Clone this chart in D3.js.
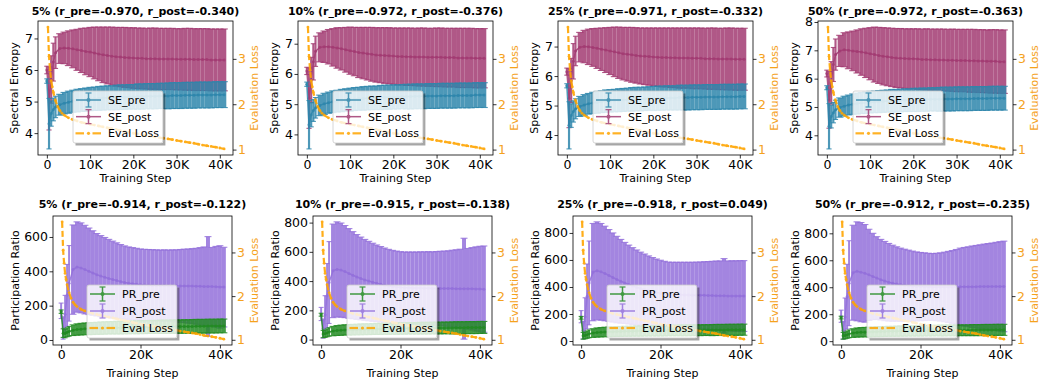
<!DOCTYPE html>
<html>
<head>
<meta charset="utf-8">
<script src="https://cdn.jsdelivr.net/npm/d3@7"></script>
<style>
  body { margin: 0; background: #fff; }
  svg { display: block; }
  text { font-family: "DejaVu Sans", sans-serif; }
</style>
</head>
<body>
<svg id="fig" width="1040" height="383"></svg>
<script>
// ---------------------------------------------------------------
// Training steps at which the spectral metrics were measured
// ---------------------------------------------------------------
const steps = [0, 500, 1000, 1500, 2000, 3000, 4000, 5000, 6000, 7000,
  8000, 9000, 10000, 11000, 12000, 13000, 14000, 15000, 16000, 17000,
  18000, 19000, 20000, 21000, 22000, 23000, 24000, 25000, 26000, 27000,
  28000, 29000, 30000, 31000, 32000, 33000, 34000, 35000, 36000, 37000,
  38000, 39000, 40000, 41000];

// Evaluation loss (right axis), shared by every panel
const lossSteps = [250, 500, 750, 1000, 1250, 1500, 2000, 2500, 3000, 3500, 4000,
  5000, 6000, 7000, 8000, 9000, 10000, 11000, 12000, 13000, 14000,
  15000, 16000, 17000, 18000, 19000, 20000, 21000, 22000, 23000, 24000,
  25000, 26000, 27000, 28000, 29000, 30000, 31000, 32000, 33000, 34000,
  35000, 36000, 37000, 38000, 39000, 40000, 41000];
const lossValues = [3.70, 3.05, 2.75, 2.52, 2.38, 2.26, 2.08, 1.95, 1.86, 1.80, 1.76,
  1.70, 1.66, 1.63, 1.60, 1.58, 1.56, 1.54, 1.52, 1.50, 1.48,
  1.46, 1.44, 1.42, 1.40, 1.38, 1.36, 1.345, 1.33, 1.31, 1.30,
  1.28, 1.265, 1.25, 1.235, 1.22, 1.20, 1.185, 1.17, 1.155, 1.14,
  1.12, 1.10, 1.085, 1.07, 1.055, 1.035, 1.015];

// Tick labels of the step axis
const seXTicks = [0, 10000, 20000, 30000, 40000];
const prXTicks = [0, 20000, 40000];

// Panel titles
const seTitles = ["5% (r_pre=-0.970, r_post=-0.340)", "10% (r_pre=-0.972, r_post=-0.376)",
  "25% (r_pre=-0.971, r_post=-0.332)", "50% (r_pre=-0.972, r_post=-0.363)"];
const prTitles = ["5% (r_pre=-0.914, r_post=-0.122)", "10% (r_pre=-0.915, r_post=-0.138)",
  "25% (r_pre=-0.918, r_post=0.049)", "50% (r_pre=-0.912, r_post=-0.235)"];

// ---------------- Spectral entropy (mean, std) ----------------
const se5PreMean = [5.65,4.30,4.62,4.75,4.83,4.90,4.95,4.98,5.01,5.03, 5.05,5.06,5.08,5.09,5.10,5.11,5.12,5.12,5.13,5.14, 5.14,5.15,5.15,5.16,5.16,5.17,5.17,5.17,5.18,5.18, 5.18,5.19,5.19,5.19,5.20,5.20,5.20,5.21,5.21,5.21, 5.21,5.22,5.22,5.22];
const se5PreStd = [0.07,0.80,0.40,0.36,0.34,0.33,0.34,0.35,0.35,0.36, 0.36,0.37,0.37,0.37,0.38,0.38,0.38,0.38,0.39,0.39, 0.39,0.39,0.39,0.40,0.40,0.40,0.40,0.40,0.40,0.40, 0.41,0.41,0.41,0.41,0.41,0.41,0.41,0.41,0.41,0.41, 0.41,0.41,0.41,0.41];
const se5PostMean = [6.00,5.10,5.70,6.25,6.55,6.68,6.70,6.69,6.67,6.64, 6.62,6.59,6.57,6.54,6.51,6.48,6.46,6.44,6.42,6.41, 6.40,6.39,6.38,6.37,6.37,6.36,6.36,6.36,6.35,6.35, 6.35,6.35,6.34,6.34,6.34,6.34,6.33,6.33,6.33,6.33, 6.32,6.32,6.32,6.32];
const se5PostStd = [0.12,1.00,0.75,0.60,0.50,0.47,0.50,0.55,0.60,0.65, 0.70,0.74,0.78,0.82,0.85,0.88,0.90,0.92,0.93,0.94, 0.95,0.95,0.96,0.96,0.96,0.96,0.97,0.97,0.97,0.97, 0.97,0.97,0.97,0.97,0.98,0.98,0.98,0.98,0.98,0.98, 0.98,0.98,0.98,0.98];

const se10PreMean = [5.66,4.32,4.65,4.79,4.88,4.96,5.01,5.05,5.08,5.10, 5.12,5.14,5.15,5.17,5.18,5.19,5.20,5.21,5.21,5.22, 5.23,5.23,5.24,5.24,5.25,5.25,5.25,5.26,5.26,5.26, 5.27,5.27,5.27,5.28,5.28,5.28,5.28,5.29,5.29,5.29, 5.29,5.30,5.30,5.30];
const se10PreStd = [0.07,0.80,0.40,0.36,0.34,0.34,0.35,0.35,0.36,0.36, 0.37,0.37,0.38,0.38,0.38,0.39,0.39,0.39,0.39,0.40, 0.40,0.40,0.40,0.40,0.40,0.41,0.41,0.41,0.41,0.41, 0.41,0.41,0.41,0.41,0.41,0.41,0.41,0.41,0.41,0.41, 0.41,0.41,0.41,0.41];
const se10PostMean = [6.10,5.20,5.80,6.40,6.75,6.88,6.90,6.90,6.88,6.86, 6.83,6.80,6.77,6.74,6.71,6.69,6.67,6.65,6.63,6.62, 6.61,6.60,6.59,6.58,6.58,6.57,6.57,6.56,6.56,6.56, 6.55,6.55,6.55,6.55,6.54,6.54,6.54,6.53,6.53,6.53, 6.53,6.52,6.52,6.52];
const se10PostStd = [0.12,1.00,0.75,0.60,0.50,0.48,0.52,0.57,0.62,0.67, 0.70,0.74,0.78,0.80,0.83,0.85,0.87,0.89,0.90,0.91, 0.92,0.93,0.93,0.94,0.94,0.95,0.95,0.95,0.96,0.96, 0.96,0.96,0.97,0.97,0.97,0.97,0.97,0.98,0.98,0.98, 0.98,0.98,0.98,0.98];

const se25PreMean = [5.67,4.33,4.66,4.80,4.89,4.97,5.02,5.06,5.09,5.11, 5.13,5.15,5.16,5.17,5.18,5.19,5.20,5.21,5.22,5.22, 5.23,5.24,5.24,5.25,5.25,5.26,5.26,5.26,5.27,5.27, 5.27,5.28,5.28,5.28,5.29,5.29,5.29,5.29,5.30,5.30, 5.30,5.30,5.31,5.31];
const se25PreStd = [0.07,0.80,0.40,0.36,0.34,0.34,0.35,0.35,0.36,0.37, 0.37,0.38,0.38,0.38,0.39,0.39,0.39,0.40,0.40,0.40, 0.40,0.40,0.41,0.41,0.41,0.41,0.41,0.41,0.42,0.42, 0.42,0.42,0.42,0.42,0.42,0.42,0.42,0.42,0.42,0.42, 0.42,0.42,0.42,0.42];
const se25PostMean = [6.15,5.25,5.85,6.50,6.85,6.98,7.00,6.99,6.97,6.94, 6.91,6.88,6.85,6.82,6.79,6.76,6.74,6.72,6.70,6.68, 6.67,6.66,6.65,6.64,6.63,6.63,6.62,6.62,6.61,6.61, 6.61,6.60,6.60,6.60,6.59,6.59,6.59,6.58,6.58,6.58, 6.58,6.57,6.57,6.57];
const se25PostStd = [0.12,1.00,0.75,0.60,0.50,0.50,0.55,0.60,0.64,0.68, 0.72,0.76,0.80,0.84,0.87,0.89,0.91,0.93,0.94,0.95, 0.96,0.97,0.98,0.99,1.00,1.00,1.01,1.01,1.02,1.02, 1.02,1.03,1.03,1.03,1.03,1.04,1.04,1.04,1.04,1.05, 1.05,1.05,1.05,1.05];

const se50PreMean = [5.68,4.32,4.66,4.80,4.90,4.98,5.03,5.07,5.10,5.12, 5.14,5.15,5.17,5.18,5.19,5.20,5.21,5.22,5.22,5.23, 5.24,5.24,5.25,5.25,5.26,5.26,5.27,5.27,5.27,5.28, 5.28,5.28,5.29,5.29,5.29,5.29,5.30,5.30,5.30,5.30, 5.31,5.31,5.31,5.31];
const se50PreStd = [0.07,0.80,0.40,0.36,0.34,0.34,0.35,0.35,0.36,0.37, 0.37,0.38,0.38,0.38,0.39,0.39,0.39,0.40,0.40,0.40, 0.40,0.40,0.41,0.41,0.41,0.41,0.41,0.41,0.42,0.42, 0.42,0.42,0.42,0.42,0.42,0.42,0.42,0.42,0.42,0.42, 0.42,0.42,0.42,0.42];
const se50PostMean = [6.18,5.25,5.85,6.50,6.85,6.98,7.02,7.00,6.98,6.96, 6.94,6.91,6.88,6.85,6.82,6.79,6.77,6.75,6.73,6.72, 6.71,6.70,6.70,6.69,6.68,6.68,6.67,6.67,6.66,6.66, 6.65,6.65,6.64,6.64,6.64,6.63,6.63,6.62,6.62,6.61, 6.61,6.61,6.60,6.60];
const se50PostStd = [0.12,1.00,0.75,0.60,0.55,0.55,0.60,0.65,0.70,0.76, 0.82,0.87,0.92,0.97,0.99,1.01,1.02,1.03,1.04,1.05, 1.05,1.06,1.06,1.07,1.07,1.08,1.08,1.08,1.09,1.09, 1.09,1.10,1.10,1.10,1.10,1.11,1.11,1.11,1.11,1.11, 1.12,1.12,1.12,1.12];

// ---------------- Participation ratio (mean, std) ----------------
const pr5PreMean = [165,40,38,45,50,57,61,63,65,66, 67,68,69,70,71,71,72,72,73,73, 74,74,75,75,76,76,76,77,77,77, 78,78,78,79,79,79,80,80,80,81, 81,81,82,82];
const pr5PreStd = [10,25,25,26,28,31,33,34,34,35, 35,35,36,36,36,36,37,37,37,37, 37,38,38,38,38,38,38,39,39,39, 39,39,39,39,39,40,40,40,40,40, 40,40,40,40];
const pr5PostMean = [170,70,150,260,330,410,425,420,410,400, 390,380,372,365,358,352,346,340,335,331, 328,325,322,320,319,318,318,317,317,316, 316,315,315,315,314,314,313,313,312,312, 311,310,309,308];
const pr5PostStd = [45,65,110,180,220,260,263,262,258,252, 246,240,236,232,228,224,220,216,213,211, 210,209,208,208,208,208,207,207,208,208, 209,210,212,214,216,218,221,225,230,290, 228,235,240,232];

const pr10PreMean = [170,38,40,46,52,58,62,64,66,67, 68,69,70,71,71,72,73,73,74,74, 75,75,76,76,77,77,77,78,78,78, 79,79,79,80,80,80,81,81,81,82, 82,82,83,83];
const pr10PreStd = [10,25,25,27,29,32,34,35,35,36, 36,36,37,37,37,37,38,38,38,38, 38,39,39,39,39,39,39,40,40,40, 40,40,40,40,40,41,41,41,41,41, 41,41,41,41];
const pr10PostMean = [175,75,170,300,390,470,480,475,465,452, 440,428,418,408,400,392,385,378,372,367, 363,360,357,355,354,353,352,352,351,351, 350,350,350,349,349,349,348,348,348,347, 347,346,346,345];
const pr10PostStd = [45,65,130,220,280,320,325,322,315,307, 298,290,283,277,272,267,262,258,254,250, 247,245,244,244,245,246,247,248,249,250, 250,252,254,256,258,262,266,270,345,276, 282,288,292,295];

const pr25PreMean = [172,39,41,47,53,59,63,65,67,68, 69,70,71,72,72,73,74,74,75,75, 76,76,77,77,78,78,78,79,79,79, 80,80,80,81,81,81,82,82,82,83, 83,83,84,84];
const pr25PreStd = [10,25,25,27,29,32,34,35,35,36, 36,36,37,37,37,37,38,38,38,38, 38,39,39,39,39,39,39,40,40,40, 40,40,40,40,40,41,41,41,41,41, 41,41,41,41];
const pr25PostMean = [180,80,180,330,430,510,520,512,500,485, 470,455,442,430,418,407,397,388,380,372, 365,359,354,350,346,344,343,342,341,340, 339,339,338,338,337,337,336,335,335,334, 334,333,333,333];
const pr25PostStd = [45,65,140,240,310,360,362,358,350,340, 330,320,310,300,292,284,277,270,264,258, 253,248,244,240,238,239,240,241,242,243, 244,245,247,249,251,253,256,258,275,259, 260,261,262,262];

const pr50PreMean = [175,40,42,48,54,60,64,66,67,68, 69,70,71,72,73,73,74,75,75,76, 76,77,77,78,78,78,79,79,79,80, 80,80,81,81,81,82,82,82,83,83, 83,84,84,84];
const pr50PreStd = [10,25,25,27,29,32,34,35,35,36, 36,36,37,37,37,37,38,38,38,38, 38,39,39,39,39,39,39,40,40,40, 40,40,40,40,40,41,41,41,41,41, 41,41,41,41];
const pr50PostMean = [185,80,180,330,430,508,518,512,503,492, 480,468,456,446,437,430,424,419,415,411, 408,406,405,404,403,402,402,402,402,402, 402,403,403,403,404,404,404,405,405,405, 405,406,406,406];
const pr50PostStd = [45,65,140,240,315,352,367,368,362,338, 320,307,299,294,288,282,276,271,267,264, 260,256,253,251,249,248,250,253,258,264, 270,277,287,292,296,302,306,310,315,319, 323,327,332,336];

// ---------------------------------------------------------------
// Styling
// ---------------------------------------------------------------
const COL = {
  sePre: "#2E86AB", sePost: "#A23B72",
  prPre: "#228B22", prPost: "#9370DB",
  loss: "#FFA500", lossText: "#F5A21C"
};
const TICK_FONT = 12.5, LABEL_FONT = 11, TITLE_FONT = 11, LEGEND_FONT = 11;

const rowLayout = [
  { left: 38, right: 233, top: 21, bottom: 155, xTicks: seXTicks,
    titleY: 14.5, xLabelY: 182, yLabelX: 17.5, lossLabelX: 258, legDx: 35, legDy: 70, legH: 52 },
  { left: 53, right: 232, top: 216, bottom: 345, xTicks: prXTicks,
    titleY: 208, xLabelY: 377, yLabelX: 19, lossLabelX: 258, legDx: 34, legDy: 69, legH: 53 }
];

const panels = [
  { row: 0, col: 0, title: seTitles[0], yLabel: "Spectral Entropy",
    series: [ { name: "SE_pre", mean: se5PreMean, std: se5PreStd, color: COL.sePre },
              { name: "SE_post", mean: se5PostMean, std: se5PostStd, color: COL.sePost } ] },
  { row: 0, col: 1, title: seTitles[1], yLabel: "Spectral Entropy",
    series: [ { name: "SE_pre", mean: se10PreMean, std: se10PreStd, color: COL.sePre },
              { name: "SE_post", mean: se10PostMean, std: se10PostStd, color: COL.sePost } ] },
  { row: 0, col: 2, title: seTitles[2], yLabel: "Spectral Entropy",
    series: [ { name: "SE_pre", mean: se25PreMean, std: se25PreStd, color: COL.sePre },
              { name: "SE_post", mean: se25PostMean, std: se25PostStd, color: COL.sePost } ] },
  { row: 0, col: 3, title: seTitles[3], yLabel: "Spectral Entropy",
    series: [ { name: "SE_pre", mean: se50PreMean, std: se50PreStd, color: COL.sePre },
              { name: "SE_post", mean: se50PostMean, std: se50PostStd, color: COL.sePost } ] },
  { row: 1, col: 0, title: prTitles[0], yLabel: "Participation Ratio",
    series: [ { name: "PR_pre", mean: pr5PreMean, std: pr5PreStd, color: COL.prPre },
              { name: "PR_post", mean: pr5PostMean, std: pr5PostStd, color: COL.prPost } ] },
  { row: 1, col: 1, title: prTitles[1], yLabel: "Participation Ratio",
    series: [ { name: "PR_pre", mean: pr10PreMean, std: pr10PreStd, color: COL.prPre },
              { name: "PR_post", mean: pr10PostMean, std: pr10PostStd, color: COL.prPost } ] },
  { row: 1, col: 2, title: prTitles[2], yLabel: "Participation Ratio",
    series: [ { name: "PR_pre", mean: pr25PreMean, std: pr25PreStd, color: COL.prPre },
              { name: "PR_post", mean: pr25PostMean, std: pr25PostStd, color: COL.prPost } ] },
  { row: 1, col: 3, title: prTitles[3], yLabel: "Participation Ratio",
    series: [ { name: "PR_pre", mean: pr50PreMean, std: pr50PreStd, color: COL.prPre },
              { name: "PR_post", mean: pr50PostMean, std: pr50PostStd, color: COL.prPost } ] }
];

const svg = d3.select("#fig");

// matplotlib-style 5% data margins
function padded(lo, hi) {
  const m = (hi - lo) * 0.05;
  return [lo - m, hi + m];
}

const fmtStep = d => d === 0 ? "0" : (d / 1000) + "K";

function styleAxis(g, color) {
  g.select(".domain").remove();
  g.selectAll(".tick line").attr("stroke", "#000").attr("stroke-width", 0.8);
  g.selectAll(".tick text")
    .attr("font-size", TICK_FONT)
    .attr("font-family", '"DejaVu Sans", sans-serif')
    .attr("fill", color || "#000");
}

// dense error bars: each bar spans its share of the step axis
function drawErrorbars(g, xs, ys, s) {
  const px = steps.map(d => xs(d));
  const n = steps.length;
  const widths = px.map((p, i) => {
    const gl = i > 0 ? p - px[i - 1] : Infinity;
    const gr = i < n - 1 ? px[i + 1] - p : Infinity;
    return Math.max(1.2, 1.0 * Math.min(gl, gr));
  });
  const idx = d3.range(n);
  const op = 0.85;
  const gs = g.append("g");

  gs.selectAll("line.bar").data(idx).join("line")
    .attr("class", "bar")
    .attr("x1", i => px[i]).attr("x2", i => px[i])
    .attr("y1", i => ys(s.mean[i] - s.std[i]))
    .attr("y2", i => ys(s.mean[i] + s.std[i]))
    .attr("stroke", s.color).attr("stroke-width", i => widths[i])
    .attr("stroke-opacity", op);

  [-1, 1].forEach(sign => {
    gs.selectAll(null).data(idx).join("line")
      .attr("x1", i => px[i] - widths[i] / 2 - 1.5)
      .attr("x2", i => px[i] + widths[i] / 2 + 1.5)
      .attr("y1", i => ys(s.mean[i] + sign * s.std[i]))
      .attr("y2", i => ys(s.mean[i] + sign * s.std[i]))
      .attr("stroke", s.color).attr("stroke-width", 1.1)
      .attr("stroke-opacity", op);
  });

  gs.append("path")
    .attr("d", d3.line().x(i => px[i]).y(i => ys(s.mean[i]))(idx))
    .attr("fill", "none").attr("stroke", s.color)
    .attr("stroke-width", 1.5).attr("stroke-opacity", op);

  gs.selectAll("circle").data(idx).join("circle")
    .attr("cx", i => px[i]).attr("cy", i => ys(s.mean[i]))
    .attr("r", 1.5).attr("fill", s.color).attr("fill-opacity", op);
}

function drawLegendHandle(g, item, y) {
  const x0 = 3, x1 = 28, xc = (x0 + x1) / 2;
  const h = g.append("g").attr("opacity", 0.85);
  if (item.kind === "err") {
    h.append("line").attr("x1", x0).attr("x2", x1).attr("y1", y).attr("y2", y)
      .attr("stroke", item.color).attr("stroke-width", 1.5);
    h.append("line").attr("x1", xc).attr("x2", xc).attr("y1", y - 7).attr("y2", y + 7)
      .attr("stroke", item.color).attr("stroke-width", 1.5);
    [-7, 7].forEach(dy => h.append("line")
      .attr("x1", xc - 3).attr("x2", xc + 3).attr("y1", y + dy).attr("y2", y + dy)
      .attr("stroke", item.color).attr("stroke-width", 1.2));
    h.append("circle").attr("cx", xc).attr("cy", y).attr("r", 2).attr("fill", item.color);
  } else {
    [[x0 - 0.5, x0 + 8], [x1 - 8.5, x1]].forEach(([a, b]) =>
      h.append("line").attr("x1", a).attr("x2", b).attr("y1", y).attr("y2", y)
        .attr("stroke", item.color).attr("stroke-width", 2.2));
    h.append("circle").attr("cx", xc).attr("cy", y).attr("r", 1.6).attr("fill", item.color);
  }
}

function drawPanel(p, pi) {
  const L = rowLayout[p.row];
  const ox = 260 * p.col;
  const x0 = L.left + ox, x1 = L.right + ox, y0 = L.top, y1 = L.bottom;

  const xs = d3.scaleLinear().domain(padded(d3.min(steps), d3.max(steps))).range([x0, x1]);

  let lo = Infinity, hi = -Infinity;
  p.series.forEach(s => s.mean.forEach((m, i) => {
    lo = Math.min(lo, m - s.std[i]); hi = Math.max(hi, m + s.std[i]);
  }));
  const ys = d3.scaleLinear().domain(padded(lo, hi)).range([y1, y0]);
  const ls = d3.scaleLinear().domain(padded(d3.min(lossValues), d3.max(lossValues))).range([y1, y0]);

  const clipId = "clip" + pi;
  svg.append("clipPath").attr("id", clipId)
    .append("rect").attr("x", x0).attr("y", y0).attr("width", x1 - x0).attr("height", y1 - y0);

  const plot = svg.append("g").attr("clip-path", `url(#${clipId})`);
  // the "post" band sits underneath the "pre" band
  drawErrorbars(plot, xs, ys, p.series[1]);
  drawErrorbars(plot, xs, ys, p.series[0]);

  // evaluation loss on the twin axis
  const lossG = plot.append("g").attr("opacity", 0.9);
  lossG.append("path")
    .attr("d", d3.line().x(d => xs(d)).y((d, i) => ls(lossValues[i]))(lossSteps))
    .attr("fill", "none").attr("stroke", COL.loss).attr("stroke-width", 2.2)
    .attr("stroke-dasharray", "6,3");
  lossG.selectAll("circle").data(lossSteps).join("circle")
    .attr("cx", d => xs(d)).attr("cy", (d, i) => ls(lossValues[i]))
    .attr("r", 1.4).attr("fill", COL.loss);

  // spines
  svg.append("rect").attr("x", x0).attr("y", y0).attr("width", x1 - x0).attr("height", y1 - y0)
    .attr("fill", "none").attr("stroke", "#000").attr("stroke-width", 0.8);

  // axes
  const gx = svg.append("g").attr("transform", `translate(0,${y1})`)
    .call(d3.axisBottom(xs).tickValues(L.xTicks).tickFormat(fmtStep).tickSize(3.5).tickPadding(1.5));
  styleAxis(gx);
  const gy = svg.append("g").attr("transform", `translate(${x0},0)`)
    .call(d3.axisLeft(ys).ticks(5).tickSize(3.5).tickPadding(1.5));
  styleAxis(gy);
  const gr = svg.append("g").attr("transform", `translate(${x1},0)`)
    .call(d3.axisRight(ls).ticks(3).tickSize(3.5).tickPadding(1.5));
  styleAxis(gr, COL.lossText);

  // labels
  svg.append("text").attr("x", (x0 + x1) / 2).attr("y", L.titleY)
    .attr("text-anchor", "middle").attr("font-size", TITLE_FONT).attr("font-weight", "bold")
    .text(p.title);
  svg.append("text").attr("x", (x0 + x1) / 2).attr("y", L.xLabelY)
    .attr("text-anchor", "middle").attr("font-size", LABEL_FONT).text("Training Step");
  svg.append("text")
    .attr("transform", `translate(${L.yLabelX + ox},${(y0 + y1) / 2}) rotate(-90)`)
    .attr("text-anchor", "middle").attr("font-size", LABEL_FONT).text(p.yLabel);
  svg.append("text")
    .attr("transform", `translate(${L.lossLabelX + ox},${(y0 + y1) / 2}) rotate(-90)`)
    .attr("text-anchor", "middle").attr("font-size", LABEL_FONT)
    .attr("fill", COL.lossText).text("Evaluation Loss");

  // legend
  const items = [
    { kind: "err", label: p.series[0].name, color: p.series[0].color },
    { kind: "err", label: p.series[1].name, color: p.series[1].color },
    { kind: "loss", label: "Eval Loss", color: COL.loss }
  ];
  const lg = svg.append("g").attr("transform", `translate(${x0 + L.legDx},${y0 + L.legDy})`);
  const shadow = lg.append("path");
  const frame = lg.append("rect");
  const rowH = (L.legH - 2) / 3;
  let maxW = 0;
  items.forEach((it, k) => {
    const cy = 9 + k * rowH;
    drawLegendHandle(lg, it, cy);
    const t = lg.append("text").attr("x", 35).attr("y", cy + 4)
      .attr("font-size", LEGEND_FONT).text(it.label);
    maxW = Math.max(maxW, t.node().getComputedTextLength());
  });
  const w = 35 + maxW + 4, h = L.legH, o = 2.5;
  frame.attr("x", 0).attr("y", 0).attr("width", w).attr("height", h).attr("rx", 2)
    .attr("fill", "#fff").attr("fill-opacity", 0.8)
    .attr("stroke", "#cccccc").attr("stroke-width", 0.8);
  shadow.attr("d", `M${w},${o} H${w + o} V${h + o} H${o} V${h} H${w} Z`)
    .attr("fill", "#000").attr("fill-opacity", 0.35);
}

panels.forEach(drawPanel);
</script>
</body>
</html>
